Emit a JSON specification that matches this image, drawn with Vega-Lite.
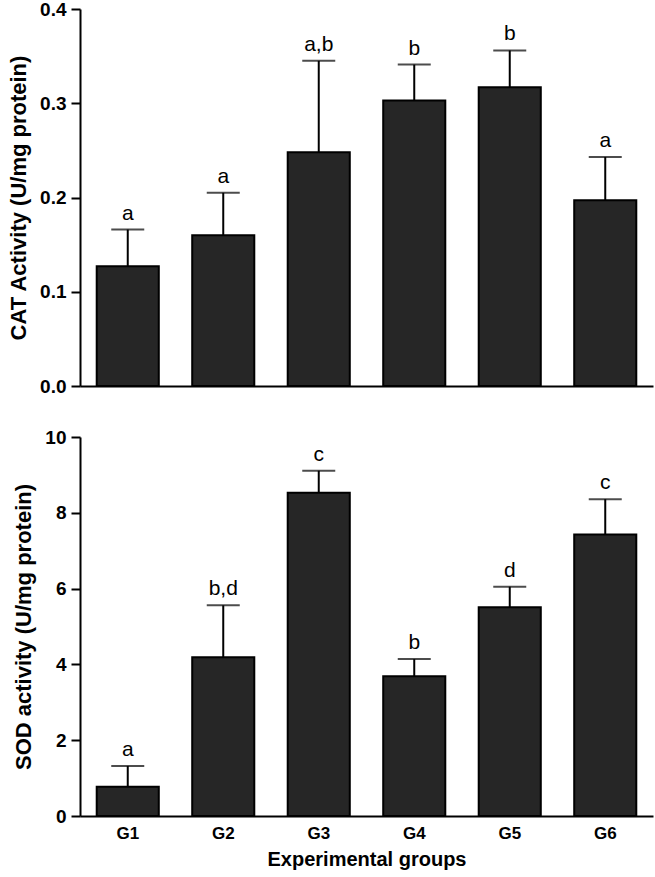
{
  "$schema": "https://vega.github.io/schema/vega-lite/v6.json",
  "background": "white",
  "padding": {"left": 7, "top": 0, "right": 2, "bottom": 2},
  "spacing": 32,
  "datasets": {
    "cat": [
      {"group": "G1", "value": 0.127, "upper": 0.166, "sig": "a"},
      {"group": "G2", "value": 0.160, "upper": 0.205, "sig": "a"},
      {"group": "G3", "value": 0.248, "upper": 0.345, "sig": "a,b"},
      {"group": "G4", "value": 0.303, "upper": 0.341, "sig": "b"},
      {"group": "G5", "value": 0.317, "upper": 0.356, "sig": "b"},
      {"group": "G6", "value": 0.197, "upper": 0.243, "sig": "a"}
    ],
    "sod": [
      {"group": "G1", "value": 0.77, "upper": 1.32, "sig": "a"},
      {"group": "G2", "value": 4.19, "upper": 5.56, "sig": "b,d"},
      {"group": "G3", "value": 8.53, "upper": 9.11, "sig": "c"},
      {"group": "G4", "value": 3.69, "upper": 4.14, "sig": "b"},
      {"group": "G5", "value": 5.51, "upper": 6.05, "sig": "d"},
      {"group": "G6", "value": 7.43, "upper": 8.36, "sig": "c"}
    ]
  },
  "vconcat": [
    {
      "width": 573,
      "height": 377,
      "data": {"name": "cat"},
      "encoding": {
        "x": {
          "field": "group", "type": "nominal", "sort": null,
          "scale": {"paddingInner": 0.35, "paddingOuter": 0.175},
          "axis": {"labels": false, "ticks": false, "title": null}
        }
      },
      "layer": [
        {
          "mark": {"type": "rule", "color": "black", "strokeWidth": 2},
          "encoding": {
            "y": {"field": "value", "type": "quantitative"},
            "y2": {"field": "upper"}
          }
        },
        {
          "mark": {"type": "tick", "color": "black", "thickness": 2, "size": 33},
          "encoding": {
            "y": {"field": "upper", "type": "quantitative"}
          }
        },
        {
          "mark": {"type": "bar", "fill": "#262626", "stroke": "black", "strokeWidth": 2},
          "encoding": {
            "y": {
              "field": "value", "type": "quantitative",
              "scale": {"domain": [0, 0.4], "nice": false},
              "axis": {"values": [0, 0.1, 0.2, 0.3, 0.4], "format": ".1f", "title": "CAT Activity (U/mg protein)"}
            }
          }
        },
        {
          "mark": {"type": "text", "baseline": "alphabetic", "dy": -10, "fontSize": 21, "font": "Liberation Sans", "color": "black"},
          "encoding": {
            "y": {"field": "upper", "type": "quantitative"},
            "text": {"field": "sig"}
          }
        }
      ]
    },
    {
      "width": 573,
      "height": 379,
      "data": {"name": "sod"},
      "encoding": {
        "x": {
          "field": "group", "type": "nominal", "sort": null,
          "scale": {"paddingInner": 0.35, "paddingOuter": 0.175},
          "axis": {"ticks": false, "labelAngle": 0, "labelFontSize": 17, "labelPadding": 9, "title": "Experimental groups", "titleFontSize": 20, "titlePadding": 8}
        }
      },
      "layer": [
        {
          "mark": {"type": "rule", "color": "black", "strokeWidth": 2},
          "encoding": {
            "y": {"field": "value", "type": "quantitative"},
            "y2": {"field": "upper"}
          }
        },
        {
          "mark": {"type": "tick", "color": "black", "thickness": 2, "size": 33},
          "encoding": {
            "y": {"field": "upper", "type": "quantitative"}
          }
        },
        {
          "mark": {"type": "bar", "fill": "#262626", "stroke": "black", "strokeWidth": 2},
          "encoding": {
            "y": {
              "field": "value", "type": "quantitative",
              "scale": {"domain": [0, 10], "nice": false},
              "axis": {"values": [0, 2, 4, 6, 8, 10], "title": "SOD activity (U/mg protein)"}
            }
          }
        },
        {
          "mark": {"type": "text", "baseline": "alphabetic", "dy": -10, "fontSize": 21, "font": "Liberation Sans", "color": "black"},
          "encoding": {
            "y": {"field": "upper", "type": "quantitative"},
            "text": {"field": "sig"}
          }
        }
      ]
    }
  ],
  "config": {
    "view": {"stroke": null},
    "font": "Liberation Sans",
    "axis": {
      "grid": false,
      "domainColor": "black",
      "domainWidth": 2,
      "tickColor": "black",
      "tickWidth": 2,
      "tickSize": 9,
      "labelFont": "Liberation Sans",
      "labelFontSize": 19,
      "labelFontWeight": "bold",
      "labelColor": "black",
      "labelPadding": 5,
      "titleFont": "Liberation Sans",
      "titleFontSize": 22,
      "titleFontWeight": "bold",
      "titleColor": "black",
      "titlePadding": 9
    }
  }
}
